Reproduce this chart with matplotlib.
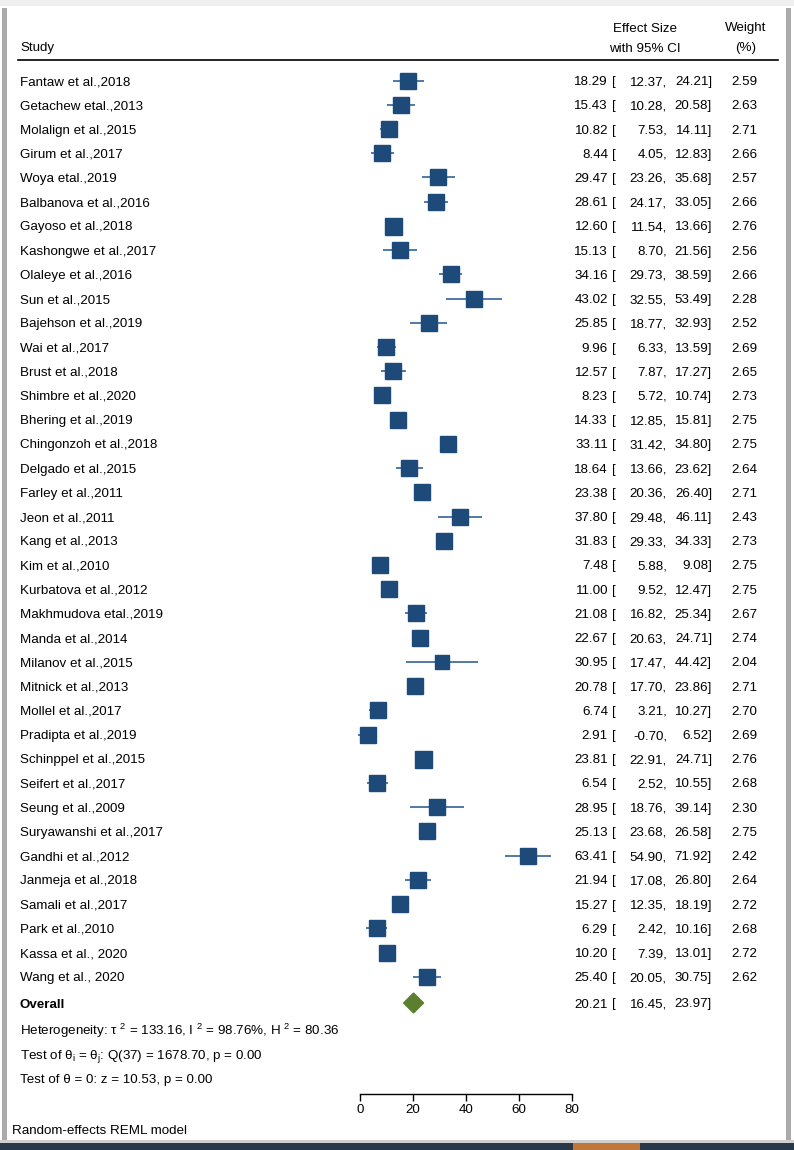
import matplotlib
matplotlib.use("Agg")
import matplotlib.pyplot as plt
import matplotlib.transforms as mtransforms
from matplotlib.patches import Polygon, Rectangle

plt.rcParams['font.family'] = ['Liberation Sans', 'DejaVu Sans']
plt.rcParams['mathtext.fontset'] = 'custom'
plt.rcParams['mathtext.rm'] = 'Liberation Sans'
plt.rcParams['mathtext.it'] = 'Liberation Sans'

studies = ["Fantaw et al.,2018", "Getachew etal.,2013", "Molalign et al.,2015", "Girum et al.,2017",
           "Woya etal.,2019", "Balbanova et al.,2016", "Gayoso et al.,2018", "Kashongwe et al.,2017",
           "Olaleye et al.,2016", "Sun et al.,2015", "Bajehson et al.,2019", "Wai et al.,2017",
           "Brust et al.,2018", "Shimbre et al.,2020", "Bhering et al.,2019", "Chingonzoh et al.,2018",
           "Delgado et al.,2015", "Farley et al.,2011", "Jeon et al.,2011", "Kang et al.,2013",
           "Kim et al.,2010", "Kurbatova et al.,2012", "Makhmudova etal.,2019", "Manda et al.,2014",
           "Milanov et al.,2015", "Mitnick et al.,2013", "Mollel et al.,2017", "Pradipta et al.,2019",
           "Schinppel et al.,2015", "Seifert et al.,2017", "Seung et al.,2009", "Suryawanshi et al.,2017",
           "Gandhi et al.,2012", "Janmeja et al.,2018", "Samali et al.,2017", "Park et al.,2010",
           "Kassa et al., 2020", "Wang et al., 2020"]
es = [18.29, 15.43, 10.82, 8.44, 29.47, 28.61, 12.60, 15.13, 34.16, 43.02, 25.85, 9.96, 12.57, 8.23,
      14.33, 33.11, 18.64, 23.38, 37.80, 31.83, 7.48, 11.00, 21.08, 22.67, 30.95, 20.78, 6.74, 2.91,
      23.81, 6.54, 28.95, 25.13, 63.41, 21.94, 15.27, 6.29, 10.20, 25.40]
lo = [12.37, 10.28, 7.53, 4.05, 23.26, 24.17, 11.54, 8.70, 29.73, 32.55, 18.77, 6.33, 7.87, 5.72,
      12.85, 31.42, 13.66, 20.36, 29.48, 29.33, 5.88, 9.52, 16.82, 20.63, 17.47, 17.70, 3.21, -0.70,
      22.91, 2.52, 18.76, 23.68, 54.90, 17.08, 12.35, 2.42, 7.39, 20.05]
hi = [24.21, 20.58, 14.11, 12.83, 35.68, 33.05, 13.66, 21.56, 38.59, 53.49, 32.93, 13.59, 17.27, 10.74,
      15.81, 34.80, 23.62, 26.40, 46.11, 34.33, 9.08, 12.47, 25.34, 24.71, 44.42, 23.86, 10.27, 6.52,
      24.71, 10.55, 39.14, 26.58, 71.92, 26.80, 18.19, 10.16, 13.01, 30.75]
weight = [2.59, 2.63, 2.71, 2.66, 2.57, 2.66, 2.76, 2.56, 2.66, 2.28, 2.52, 2.69, 2.65, 2.73, 2.75,
          2.75, 2.64, 2.71, 2.43, 2.73, 2.75, 2.75, 2.67, 2.74, 2.04, 2.71, 2.70, 2.69, 2.76, 2.68,
          2.30, 2.75, 2.42, 2.64, 2.72, 2.68, 2.72, 2.62]
overall = [20.21, 16.45, 23.97]
ticks = [0, 20, 40, 60, 80]

W, H = 794, 1150
fig = plt.figure(figsize=(W / 100, H / 100), dpi=100)
fig.patch.set_facecolor("white")

# rows are placed by pixel distance from the top
y0, dy = 80.6, 24.22
def row(py):
    return (py - y0) / dy

ax = fig.add_axes([360 / W, 0, 212 / W, 1])
ax.set_xlim(0, 80)
ax.set_ylim(row(H), row(0))
ax.axis("off")

tr = mtransforms.blended_transform_factory(fig.transFigure, ax.transData)
fs = 9.6

def txt(px, y, s, **kw):
    ax.text(px / W, y, s, transform=tr, fontsize=fs, va="center_baseline", **kw)

# window frame
fig.add_artist(Rectangle((0, 1 - 6 / H), 1, 6 / H, transform=fig.transFigure, color="#efefef", lw=0))
fig.add_artist(Rectangle((2 / W, 1 - 1141 / H), 5 / W, 1133 / H, transform=fig.transFigure, color="#ababab", lw=0))
fig.add_artist(Rectangle((786 / W, 1 - 1141 / H), 5 / W, 1133 / H, transform=fig.transFigure, color="#ababab", lw=0))
fig.add_artist(Rectangle((0, 1 - 1143 / H), 1, 3 / H, transform=fig.transFigure, color="#cfcfcf", lw=0))
fig.add_artist(Rectangle((0, 0), 1, 7 / H, transform=fig.transFigure, color="#283848", lw=0))
fig.add_artist(Rectangle((573 / W, 0), 67 / W, 7 / H, transform=fig.transFigure, color="#c0773a", lw=0))

# header
txt(20, row(47), "Study")
txt(645, row(27), "Effect Size", ha="center")
txt(645, row(47), "with 95% CI", ha="center")
txt(746, row(27), "Weight", ha="center")
txt(746, row(47), "(%)", ha="center")
ax.plot([18 / W, 778 / W], [row(60), row(60)], transform=tr, color="black", lw=1.2, clip_on=False)

sq_col = "#1d4a78"
ci_col = "#5079a6"
for i in range(len(studies)):
    ax.plot([lo[i], hi[i]], [i, i], color=ci_col, lw=1.4, clip_on=False, solid_capstyle="butt")
    ms = 17 * (weight[i] / 2.76) ** 0.5 * 0.72
    ax.plot(es[i], i, marker="s", ms=ms, color=sq_col, mec=sq_col, clip_on=False)
    txt(20, i, studies[i])
    txt(608, i, f"{es[i]:.2f}", ha="right")
    txt(612, i, "[")
    txt(667, i, f"{lo[i]:.2f},", ha="right")
    txt(712, i, f"{hi[i]:.2f}]", ha="right")
    txt(757, i, f"{weight[i]:.2f}", ha="right")

# overall diamond
yo = row(1003)
ax.add_patch(Polygon([[overall[1], yo], [overall[0], yo - 0.41], [overall[2], yo], [overall[0], yo + 0.41]],
                     closed=True, color="#5b7f2e", clip_on=False))
txt(20, yo, "Overall", fontweight="bold")
txt(608, yo, f"{overall[0]:.2f}", ha="right")
txt(612, yo, "[")
txt(667, yo, f"{overall[1]:.2f},", ha="right")
txt(712, yo, f"{overall[2]:.2f}]", ha="right")

txt(20, row(1028), r"Heterogeneity: τ $^{2}$ = 133.16, I $^{2}$ = 98.76%, H $^{2}$ = 80.36")
txt(20, row(1053), r"Test of θ$_{i}$ = θ$_{j}$: Q(37) = 1678.70, p = 0.00")
txt(20, row(1078), "Test of θ = 0: z = 10.53, p = 0.00")

# x axis
axx = fig.add_axes([360 / W, 1 - 1094 / H, 212 / W, 1e-5])
axx.set_xlim(0, 80)
axx.set_xticks(ticks)
axx.set_yticks([])
for s in ["top", "left", "right"]:
    axx.spines[s].set_visible(False)
axx.spines["bottom"].set_linewidth(1.0)
axx.tick_params(axis="x", direction="out", length=5, width=1.0, labelsize=fs, pad=2)
axx.patch.set_alpha(0)

txt(12, row(1129), "Random-effects REML model")

fig.savefig("out.png", dpi=100)
